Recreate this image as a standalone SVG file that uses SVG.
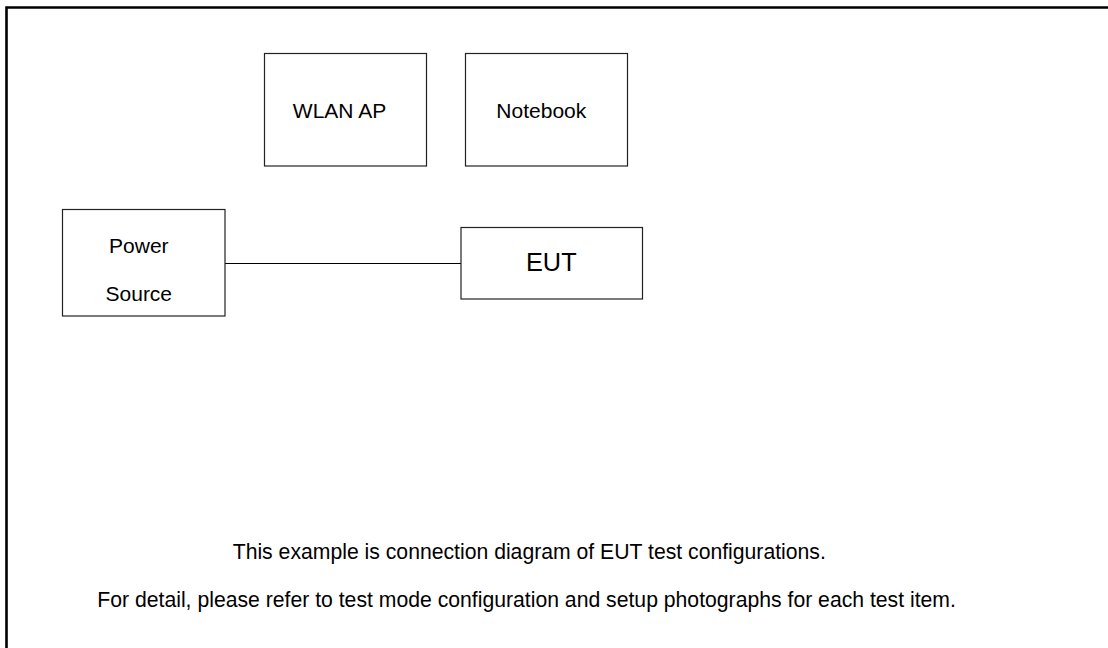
<svg xmlns="http://www.w3.org/2000/svg" width="1108" height="648" viewBox="0 0 1108 648">
<style>
  .box { fill: #fff; stroke: #222; stroke-width: 1.2; }
  .lbl { font-family: "Liberation Sans", Arial, sans-serif; font-size: 21px; fill: #000; }
  .note { font-size: 21.2px; }
  .conn { stroke: #000; stroke-width: 1.2; fill: none; }
</style>
<rect width="1108" height="648" fill="#fff"/>
<path id="frame" d="M6.5,648 V7.5 H1108" fill="none" stroke="#000" stroke-width="2.6"/>
<g id="connectors">
  <line class="conn" x1="225" y1="263.5" x2="461" y2="263.5"/>
</g>
<g id="wlan-ap">
  <rect class="box" x="264.5" y="53.5" width="162" height="112.5"/>
  <text class="lbl" x="339.5" y="117.5" text-anchor="middle">WLAN AP</text>
</g>
<g id="notebook">
  <rect class="box" x="465.5" y="53.5" width="162" height="112.5"/>
  <text class="lbl" x="541.3" y="117.5" text-anchor="middle">Notebook</text>
</g>
<g id="power-source">
  <rect class="box" x="62.5" y="209.5" width="162.5" height="106.5"/>
  <text class="lbl" x="138.8" y="252.7" text-anchor="middle">Power</text>
  <text class="lbl" x="138.8" y="300.7" text-anchor="middle">Source</text>
</g>
<g id="eut">
  <rect class="box" x="461" y="227.5" width="181.5" height="71.5"/>
  <text class="lbl" x="551.3" y="270.7" text-anchor="middle" style="font-size:25.3px">EUT</text>
</g>
<g id="notes">
  <text class="lbl note" x="232.7" y="559.3">This example is connection diagram of EUT test configurations.</text>
  <text class="lbl note" x="97.3" y="607">For detail, please refer to test mode configuration and setup photographs for each test item.</text>
</g>
</svg>
